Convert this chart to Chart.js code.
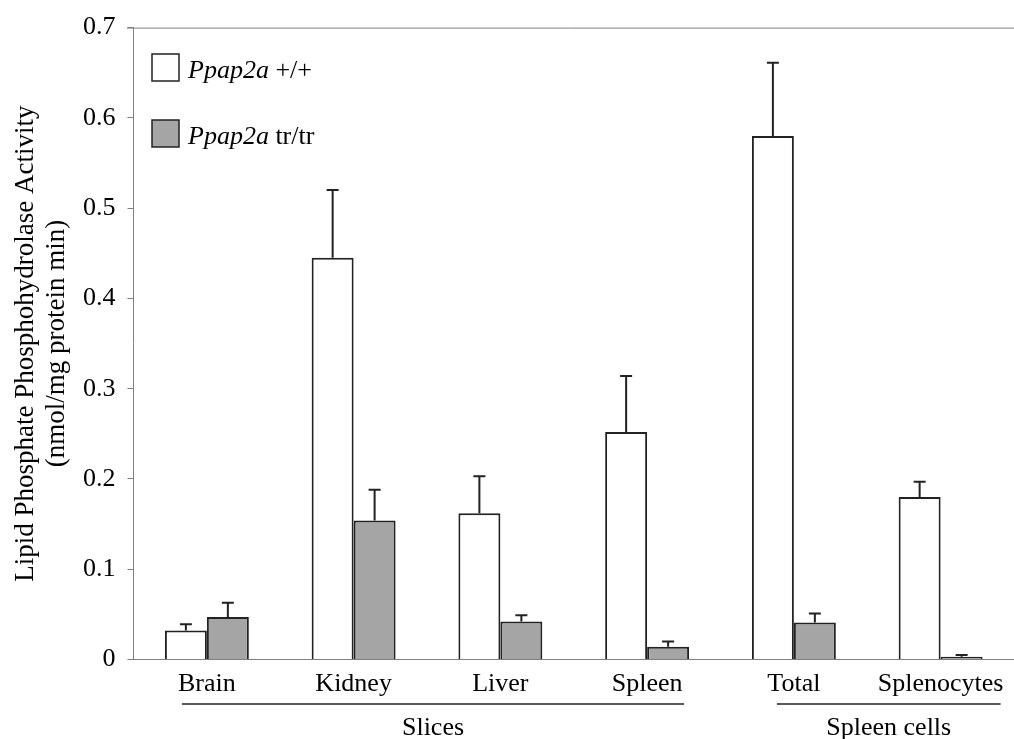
<!DOCTYPE html>
<html>
<head>
<meta charset="utf-8">
<script src="https://cdn.jsdelivr.net/npm/chart.js@4"></script>
<style>
  body { margin: 0; background: #fff; }
  canvas { display: block; }
</style>
</head>
<body>
<canvas id="activityChart" width="1014" height="739"></canvas>
<script>
const categories = ['Brain', 'Kidney', 'Liver', 'Spleen', 'Total', 'Splenocytes'];
const wildType = [0.032, 0.445, 0.162, 0.252, 0.580, 0.180];
const wildTypeErr = [0.007, 0.075, 0.041, 0.062, 0.081, 0.017];
const trapped = [0.047, 0.154, 0.042, 0.014, 0.041, 0.003];
const trappedErr = [0.016, 0.034, 0.007, 0.006, 0.010, 0.002];
const groups = [
  { label: 'Slices', from: 0, to: 3 },
  { label: 'Spleen cells', from: 4, to: 5 }
];

const serif = 'Liberation Serif, Times New Roman, serif';
const ink = '#222';
const axisGray = '#808080';

// error bars, only the upper half like the original
const errorBars = {
  id: 'errorBars',
  afterDatasetsDraw(chart) {
    const ctx = chart.ctx;
    const yScale = chart.scales.y;
    const errs = [wildTypeErr, trappedErr];
    ctx.save();
    ctx.strokeStyle = ink;
    ctx.lineWidth = 2;
    chart.data.datasets.forEach((ds, i) => {
      chart.getDatasetMeta(i).data.forEach((bar, j) => {
        const top = yScale.getPixelForValue(ds.data[j] + errs[i][j]);
        ctx.beginPath();
        ctx.moveTo(bar.x, bar.y);
        ctx.lineTo(bar.x, top);
        ctx.moveTo(bar.x - 6, top);
        ctx.lineTo(bar.x + 6, top);
        ctx.stroke();
      });
    });
    ctx.restore();
  }
};

// y title, legend, top frame line, group labels
const decorations = {
  id: 'decorations',
  afterDraw(chart) {
    const ctx = chart.ctx;
    const area = chart.chartArea;
    const x = chart.scales.x;

    ctx.save();
    // top frame
    ctx.strokeStyle = axisGray;
    ctx.lineWidth = 1;
    ctx.beginPath();
    ctx.moveTo(127, area.top + 0.5);
    ctx.lineTo(chart.width, area.top + 0.5);
    ctx.stroke();

    // y title
    ctx.fillStyle = '#000';
    ctx.translate(0, (area.top + area.bottom) / 2);
    ctx.rotate(-Math.PI / 2);
    ctx.textAlign = 'center';
    ctx.textBaseline = 'alphabetic';
    ctx.font = '27px ' + serif;
    ctx.fillText('Lipid Phosphate Phosphohydrolase Activity', 0, 33);
    ctx.fillText('(nmol/mg protein min)', 0, 64);
    ctx.restore();

    // legend
    ctx.save();
    const rows = [
      { fill: '#ffffff', suffix: ' +/+', y: 54 },
      { fill: '#a5a5a5', suffix: ' tr/tr', y: 120 }
    ];
    rows.forEach(r => {
      ctx.fillStyle = r.fill;
      ctx.fillRect(152, r.y, 27, 27);
      ctx.strokeStyle = ink;
      ctx.lineWidth = 1.5;
      ctx.strokeRect(152, r.y, 27, 27);
      ctx.fillStyle = '#000';
      ctx.textBaseline = 'alphabetic';
      ctx.textAlign = 'left';
      ctx.font = 'italic 26px ' + serif;
      ctx.fillText('Ppap2a', 188, r.y + 24);
      const w = ctx.measureText('Ppap2a').width;
      ctx.font = '26px ' + serif;
      ctx.fillText(r.suffix, 188 + w, r.y + 24);
    });

    // group lines and labels under the axis
    ctx.strokeStyle = ink;
    ctx.lineWidth = 1.5;
    ctx.fillStyle = '#000';
    ctx.textAlign = 'center';
    ctx.font = '26px ' + serif;
    const ends = [[-25, 37], [-17, 60]];
    groups.forEach((g, k) => {
      const x0 = x.getPixelForValue(g.from) + ends[k][0];
      const x1 = x.getPixelForValue(g.to) + ends[k][1];
      ctx.beginPath();
      ctx.moveTo(x0, 704);
      ctx.lineTo(x1, 704);
      ctx.stroke();
      ctx.fillText(g.label, (x0 + x1) / 2, 735);
    });
    ctx.restore();
  }
};

new Chart(document.getElementById('activityChart'), {
  type: 'bar',
  data: {
    labels: categories,
    datasets: [
      {
        label: 'Ppap2a +/+',
        data: wildType,
        backgroundColor: '#ffffff',
        borderColor: ink,
        borderWidth: 2
      },
      {
        label: 'Ppap2a tr/tr',
        data: trapped,
        backgroundColor: '#a5a5a5',
        borderColor: ink,
        borderWidth: 2
      }
    ]
  },
  options: {
    responsive: false,
    animation: false,
    layout: { padding: { top: 25, left: 0, right: 0, bottom: 0 } },
    datasets: {
      bar: { barPercentage: 1, categoryPercentage: 0.572 }
    },
    plugins: {
      legend: { display: false },
      tooltip: { enabled: false }
    },
    scales: {
      x: {
        grid: { display: false },
        border: { color: axisGray, width: 1 },
        ticks: {
          color: '#000',
          font: { family: serif, size: 26 },
          padding: 1,
          maxRotation: 0,
          autoSkip: false
        },
        afterFit(scale) { scale.height = 79.5; }
      },
      y: {
        min: 0,
        max: 0.7,
        grid: {
          drawOnChartArea: false,
          drawTicks: true,
          tickLength: 6,
          color: axisGray
        },
        border: { color: axisGray, width: 1 },
        ticks: {
          stepSize: 0.1,
          color: '#000',
          padding: 12,
          font: { family: serif, size: 26 },
          callback: v => v === 0 ? '0' : v.toFixed(1)
        },
        afterFit(scale) { scale.width = 133.5; }
      }
    }
  },
  plugins: [errorBars, decorations]
});
</script>
</body>
</html>
